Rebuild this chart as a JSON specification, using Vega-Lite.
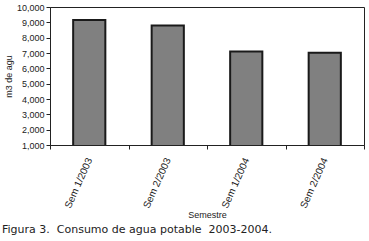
{
  "$schema": "https://vega.github.io/schema/vega-lite/v6.json",
  "width": 314,
  "height": 138,
  "autosize": "none",
  "padding": {"left": 50, "top": 7, "right": 5, "bottom": 96},
  "background": "white",
  "config": {
    "view": {"stroke": "#222", "strokeWidth": 1},
    "font": "Liberation Sans"
  },
  "title": {
    "text": "Figura 3.\u00a0\u00a0Consumo de agua potable\u00a0\u00a02003-2004.",
    "orient": "bottom",
    "anchor": "start",
    "frame": "group",
    "dx": -48,
    "offset": 5,
    "font": "DejaVu Sans",
    "fontSize": 11,
    "fontWeight": "normal",
    "color": "#222"
  },
  "data": {
    "values": [
      {"semestre": "Sem 1/2003", "consumo": 9150},
      {"semestre": "Sem 2/2003", "consumo": 8800},
      {"semestre": "Sem 1/2004", "consumo": 7090},
      {"semestre": "Sem 2/2004", "consumo": 7020}
    ]
  },
  "mark": {
    "type": "bar",
    "width": {"band": 0.41},
    "fill": "#808080",
    "stroke": "#1a1a1a",
    "strokeWidth": 2,
    "clip": true
  },
  "encoding": {
    "x": {
      "field": "semestre",
      "type": "nominal",
      "sort": null,
      "scale": {"paddingInner": 0, "paddingOuter": 0},
      "axis": {
        "title": "Semestre",
        "titleFontSize": 9,
        "titleFontWeight": "normal",
        "titleColor": "#222",
        "titlePadding": 1,
        "labelAngle": -66,
        "labelFontSize": 10,
        "labelColor": "#222",
        "labelPadding": 9,
        "tickBand": "extent",
        "tickSize": 4,
        "tickColor": "#222",
        "domainColor": "#222"
      }
    },
    "y": {
      "field": "consumo",
      "type": "quantitative",
      "scale": {"domain": [1000, 10000], "zero": false, "nice": false},
      "axis": {
        "title": "m3 de agu",
        "titleFontSize": 9,
        "titleFontWeight": "normal",
        "titleColor": "#222",
        "titlePadding": 3,
        "values": [1000, 2000, 3000, 4000, 5000, 6000, 7000, 8000, 9000, 10000],
        "format": ",.0f",
        "labelFontSize": 9,
        "labelColor": "#222",
        "labelPadding": 2,
        "tickSize": 4,
        "tickColor": "#222",
        "domainColor": "#222",
        "grid": false
      }
    }
  }
}
